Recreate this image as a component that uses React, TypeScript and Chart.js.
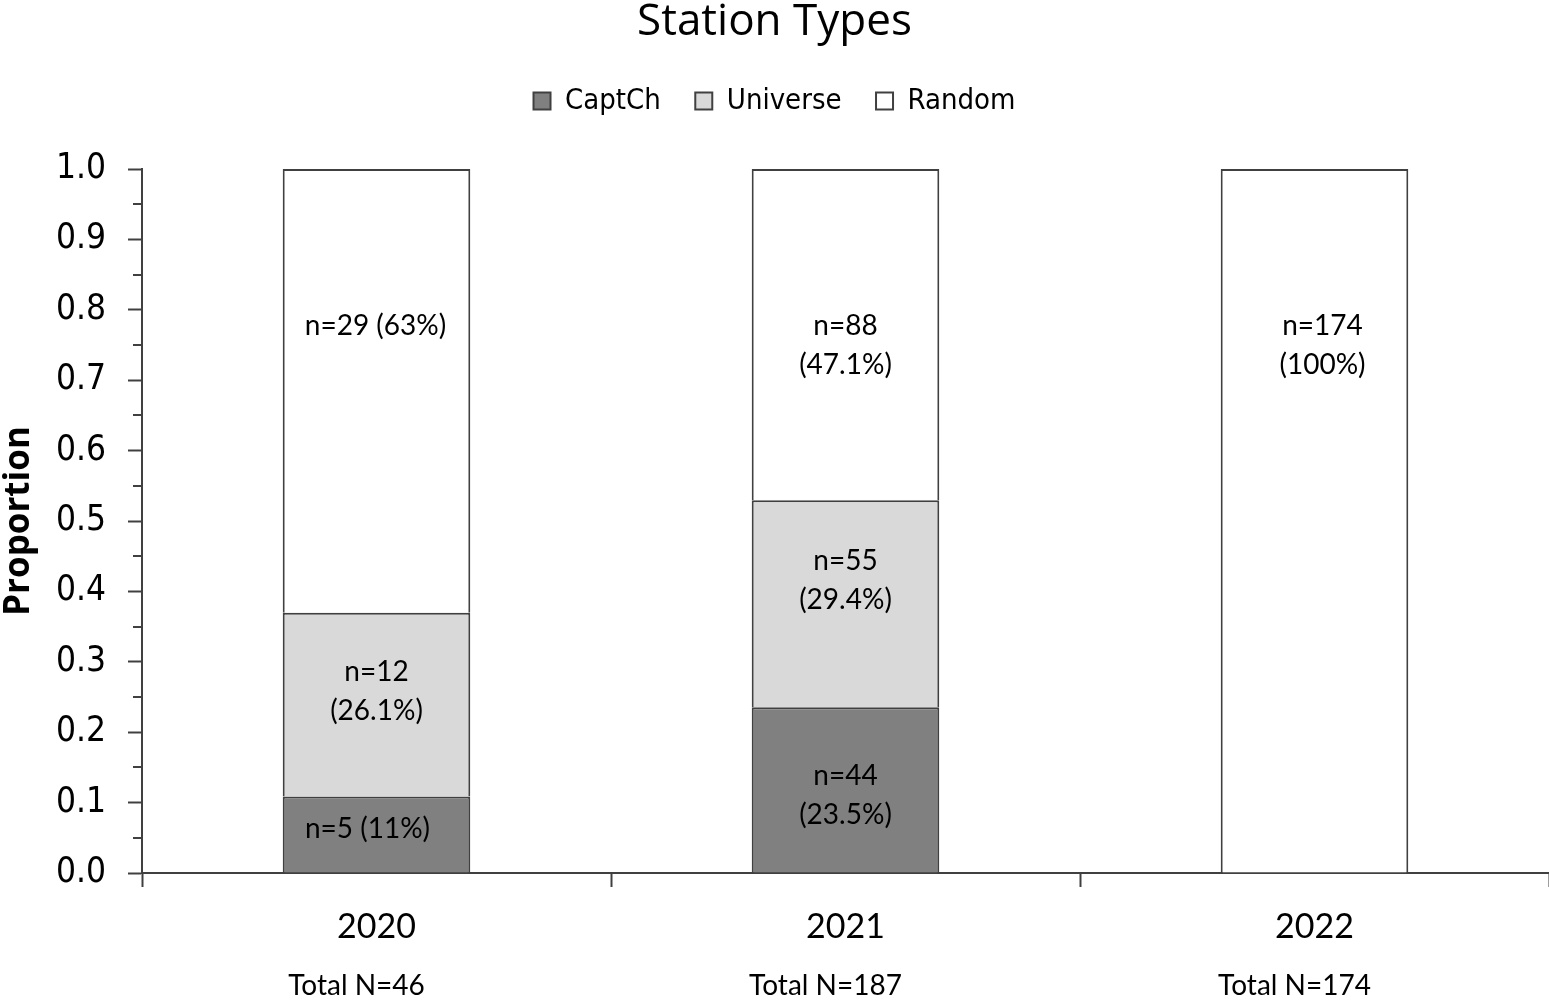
import { useEffect, useRef } from 'react';
import { Chart, registerables } from 'chart.js';

Chart.register(...registerables);

// Station counts per year, by station type
const years = ['2020', '2021', '2022'];
const captChCounts = [5, 44, 0];
const universeCounts = [12, 55, 0];
const randomCounts = [29, 88, 174];
const totals = [46, 187, 174];

// Percent text printed inside each segment
const captChPct = ['11%', '23.5%', ''];
const universePct = ['26.1%', '29.4%', ''];
const randomPct = ['63%', '47.1%', '100%'];

// Y axis range and step
const yMin = 0;
const yMax = 1;
const yMajorStep = 0.1;
const yMinorStep = 0.05;

const countsBySeries = [captChCounts, universeCounts, randomCounts];
const pctBySeries = [captChPct, universePct, randomPct];

// Where each in-bar label sits (proportion on the y scale), whether it fits on one line, and a small sideways nudge
const segmentLabels = [
  { series: 0, year: 0, at: 0.0625, oneLine: true, dx: -9 },
  { series: 1, year: 0, at: 0.258, oneLine: false, dx: 0 },
  { series: 2, year: 0, at: 0.777, oneLine: true, dx: -1 },
  { series: 0, year: 1, at: 0.11, oneLine: false, dx: 0 },
  { series: 1, year: 1, at: 0.415, oneLine: false, dx: 0 },
  { series: 2, year: 1, at: 0.749, oneLine: false, dx: 0 },
  { series: 2, year: 2, at: 0.749, oneLine: false, dx: 8 },
];

const AXIS_COLOR = '#404040';
const LABEL_FONT = '28px Lato';
const LINE_GAP = 39;
const LEGEND_GAP = 43.5;

const isMajor = (v: number) => Math.round(v / yMinorStep) % 2 === 0;

// Leaves clear space between the legend row and the plot
const legendGapPlugin = {
  id: 'legendGap',
  afterInit(chart: any) {
    const legend = chart.legend;
    if (!legend) return;
    const fit = legend.fit.bind(legend);
    legend.fit = function () {
      fit();
      if (this.options.display) this.height += LEGEND_GAP;
    };
  },
};

const segmentLabelPlugin = {
  id: 'segmentLabels',
  afterDatasetsDraw(chart: any) {
    const { ctx } = chart;
    const yScale = chart.scales.y;
    ctx.save();
    ctx.font = LABEL_FONT;
    ctx.fillStyle = '#000';
    ctx.textAlign = 'center';
    ctx.textBaseline = 'middle';
    segmentLabels.forEach((s) => {
      const bar = chart.getDatasetMeta(s.series).data[s.year];
      if (!bar) return;
      const n = countsBySeries[s.series][s.year];
      const pct = pctBySeries[s.series][s.year];
      const lines = s.oneLine ? [`n=${n} (${pct})`] : [`n=${n}`, `(${pct})`];
      const cy = yScale.getPixelForValue(s.at);
      const first = cy - ((lines.length - 1) * LINE_GAP) / 2;
      lines.forEach((t, i) => ctx.fillText(t, bar.x + s.dx, first + i * LINE_GAP));
    });
    ctx.restore();
  },
};

// Minor tick marks on the y axis and the "Total N" line under each year
const axisExtrasPlugin = {
  id: 'axisExtras',
  afterDraw(chart: any) {
    const { ctx, chartArea } = chart;
    const yScale = chart.scales.y;
    const xScale = chart.scales.x;
    ctx.save();
    ctx.strokeStyle = AXIS_COLOR;
    ctx.lineWidth = 2;
    yScale.ticks.forEach((t: any) => {
      if (isMajor(t.value)) return;
      const py = Math.round(yScale.getPixelForValue(t.value));
      ctx.beginPath();
      ctx.moveTo(chartArea.left - 9, py);
      ctx.lineTo(chartArea.left, py);
      ctx.stroke();
    });
    ctx.font = LABEL_FONT;
    ctx.fillStyle = '#000';
    ctx.textAlign = 'center';
    ctx.textBaseline = 'middle';
    years.forEach((_, i) => {
      ctx.fillText(`Total N=${totals[i]}`, xScale.getPixelForValue(i) - 20, 986);
    });
    ctx.restore();
  },
};

export default function App() {
  const canvasRef = useRef<HTMLCanvasElement | null>(null);

  useEffect(() => {
    document.body.style.margin = '0';
    const canvas = canvasRef.current;
    if (!canvas) return;

    const series = [
      { label: 'CaptCh', counts: captChCounts, fill: '#808080' },
      { label: 'Universe', counts: universeCounts, fill: '#d9d9d9' },
      { label: 'Random', counts: randomCounts, fill: '#ffffff' },
    ];

    const chart = new Chart(canvas, {
      type: 'bar',
      data: {
        labels: years,
        datasets: series.map((s) => ({
          label: s.label,
          data: s.counts.map((c, i) => c / totals[i]),
          backgroundColor: s.fill,
          borderColor: AXIS_COLOR,
          borderWidth: 2,
          barPercentage: 0.4,
          categoryPercentage: 1,
        })),
      },
      options: {
        animation: false,
        responsive: false,
        devicePixelRatio: 1,
        layout: { padding: 0 },
        plugins: {
          title: {
            display: true,
            text: 'Station Types',
            color: '#000',
            font: { family: "'Open Sans'", size: 44, weight: 'normal', lineHeight: 1 },
            padding: { top: 0, bottom: 8 },
          },
          legend: {
            display: true,
            position: 'top',
            labels: {
              color: '#000',
              font: { family: "'DejaVu Sans Condensed', 'DejaVu Sans'", size: 29 },
              boxWidth: 17,
              boxHeight: 17,
              padding: 34.5,
            },
          },
          tooltip: { enabled: false },
        },
        scales: {
          x: {
            stacked: true,
            offset: true,
            grid: {
              offset: true,
              drawOnChartArea: false,
              drawTicks: true,
              tickLength: 14,
              tickColor: AXIS_COLOR,
              tickWidth: 2,
            },
            border: { display: true, color: AXIS_COLOR, width: 2 },
            ticks: {
              color: '#000',
              font: { family: 'Lato', size: 34 },
              padding: 20,
            },
            afterFit: (scale: any) => {
              scale.height = 127;
              scale.paddingLeft = 0;
              scale.paddingRight = 0;
            },
          },
          y: {
            stacked: true,
            min: yMin,
            max: yMax,
            grid: {
              drawOnChartArea: false,
              drawTicks: true,
              tickLength: 14,
              tickWidth: 2,
              tickColor: (c: any) => (c.tick && isMajor(c.tick.value) ? AXIS_COLOR : 'rgba(0,0,0,0)'),
            },
            border: { display: true, color: AXIS_COLOR, width: 2 },
            ticks: {
              stepSize: yMinorStep,
              autoSkip: false,
              color: '#000',
              font: { family: "'DejaVu Sans Condensed', 'DejaVu Sans'", size: 35 },
              padding: 22,
              callback: (v: any) => (isMajor(Number(v)) ? (Math.round(Number(v) / yMajorStep) * yMajorStep).toFixed(1) : ''),
            },
            title: {
              display: true,
              text: 'Proportion',
              color: '#000',
              font: { family: "'Open Sans'", size: 35, weight: 'bold', lineHeight: 1 },
              padding: 2,
            },
            afterFit: (scale: any) => {
              scale.width = 142;
              scale.paddingBottom = 0;
            },
          },
        },
      },
      plugins: [legendGapPlugin, segmentLabelPlugin, axisExtrasPlugin],
    });

    return () => chart.destroy();
  }, []);

  return (
    <div style={{ width: 1549, height: 1000, background: '#fff' }}>
      <canvas ref={canvasRef} width={1549} height={1000} style={{ display: 'block' }} />
    </div>
  );
}
